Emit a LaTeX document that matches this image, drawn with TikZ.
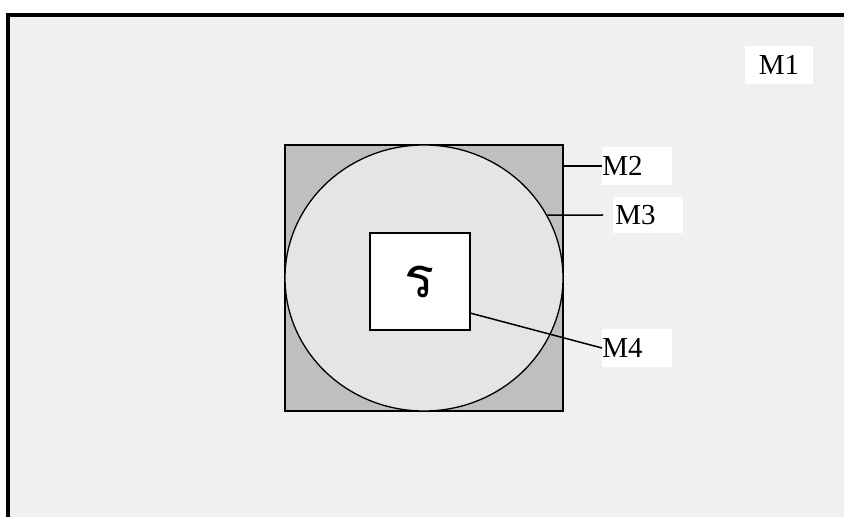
\documentclass[tikz,border=0pt]{standalone}
\usepackage{fontspec}
\setmainfont{Liberation Serif}
\newfontfamily\thaifont[Script=Thai]{Loma}
\usetikzlibrary{shapes.geometric}
\begin{document}
\begin{tikzpicture}[x=0.5pt,y=-0.5pt,
  lbl/.style={fill=white,inner sep=0pt,minimum height=19pt,font=\fontsize{14.5}{17}\selectfont}]
\useasboundingbox (0,0) rectangle (844,517);
\clip (0,0) rectangle (844,517);
\draw[line width=1.6pt, fill=black!6] (8,15) rectangle (880,560);

\node (outer) at (424,278) [draw, line width=1pt, fill=black!25, inner sep=0pt, minimum width=139pt, minimum height=133pt]{};
\node (disc) at (424,278) [draw, ellipse, line width=0.65pt, fill=black!10, inner sep=0pt, minimum width=139pt, minimum height=133pt]{};
\node (inner) at (420,281.5) [draw, line width=0.75pt, fill=white, inner sep=0pt, minimum width=50pt, minimum height=48.5pt, font=\thaifont\fontsize{28}{32}\selectfont]{ร};

\node (m1) at (779,65) [lbl, minimum width=34pt]{M1};
\node (m2) at (602,166) [lbl, anchor=west, text width=35pt]{M2};
\node (m3) at (613,215) [lbl, anchor=west, text width=35pt, minimum height=18pt]{\hspace{1pt}M3};
\node (m4) at (602,348) [lbl, anchor=west, text width=35pt]{M4};
\coordinate (e3) at (603,215);

\draw[line width=0.75pt] (outer.east |- m2.west)--(m2.west);
\draw[line width=0.75pt] (disc.27)--(e3);
\draw[line width=0.75pt] (inner.-32)--(m4.west);
\end{tikzpicture}
\end{document}
